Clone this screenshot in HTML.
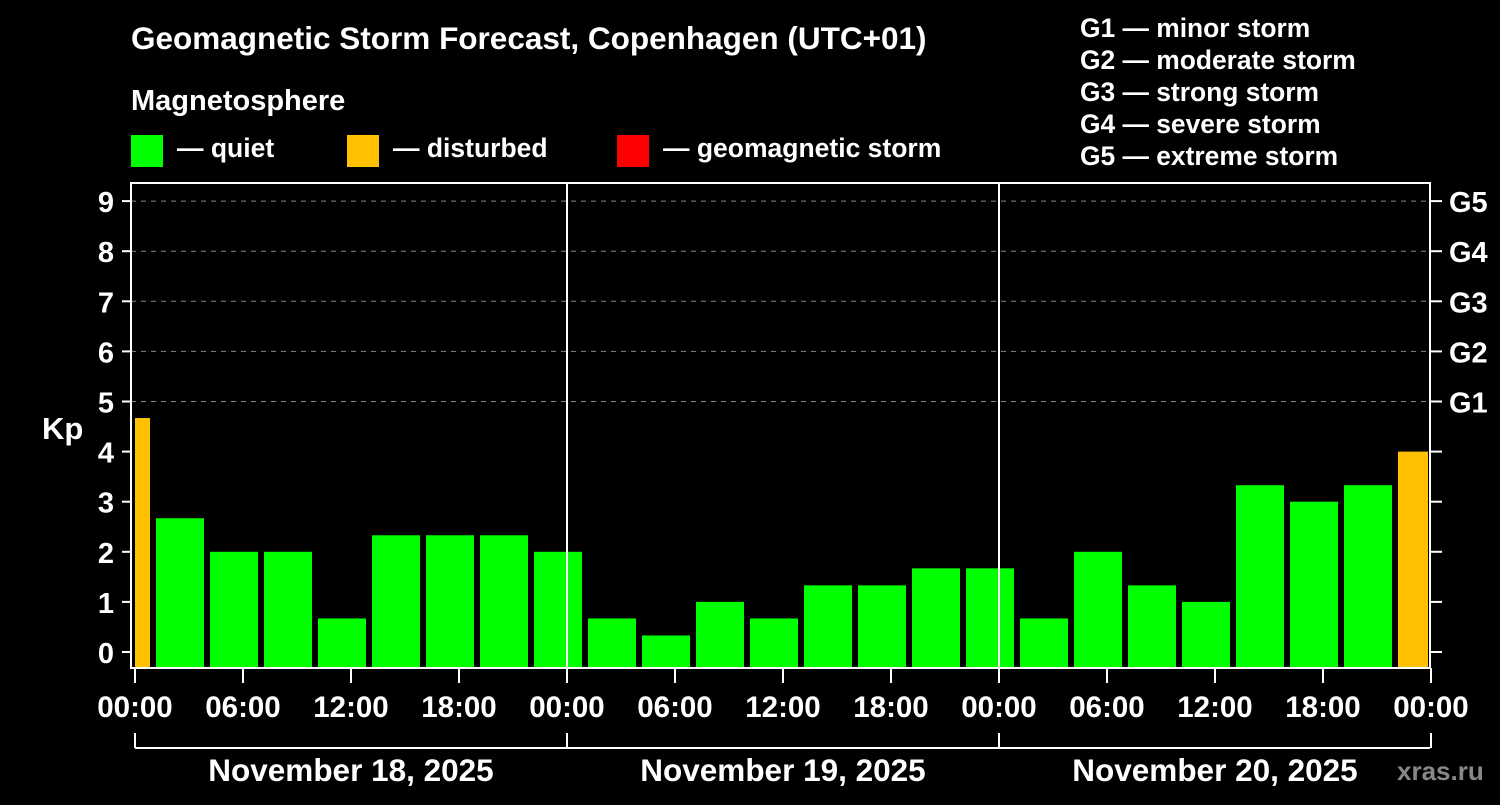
<!DOCTYPE html>
<html><head><meta charset="utf-8"><style>
body{margin:0;background:#000;width:1500px;height:800px;overflow:hidden}
svg text{font-family:"Liberation Sans",Arial,sans-serif;font-weight:bold;fill:#fff}
</style></head><body>
<svg id="c" width="1500" height="800" xmlns="http://www.w3.org/2000/svg">
<text x="131" y="49" font-size="31.5">Geomagnetic Storm Forecast, Copenhagen (UTC+01)</text>
<text x="131" y="110" font-size="29">Magnetosphere</text>
<rect x="131" y="135" width="32" height="32" fill="#00ff00"/>
<text x="177" y="157" font-size="26.5">— quiet</text>
<rect x="347" y="135" width="32" height="32" fill="#ffc000"/>
<text x="393" y="157" font-size="26.5">— disturbed</text>
<rect x="617" y="135" width="32" height="32" fill="#ff0000"/>
<text x="663" y="157" font-size="26.5">— geomagnetic storm</text>
<g font-size="26.4">
<text x="1080" y="37">G1 — minor storm</text>
<text x="1080" y="69">G2 — moderate storm</text>
<text x="1080" y="101">G3 — strong storm</text>
<text x="1080" y="133">G4 — severe storm</text>
<text x="1080" y="165">G5 — extreme storm</text>
</g>
<text x="42" y="439" font-size="31">Kp</text>
<g id="grid"></g><g id="bars"></g><g id="axes"></g>
<text x="1397" y="780" font-size="26" fill="#888" style="fill:#888">xras.ru</text>
</svg>
<script>
const kpValues=[4.67,2.67,2,2,0.67,2.33,2.33,2.33,2,0.67,0.33,1,0.67,1.33,1.33,1.67,1.67,0.67,2,1.33,1,3.33,3,3.33,4];
const yTicks=[0,1,2,3,4,5,6,7,8,9];
const gLabels=["G1","G2","G3","G4","G5"];
const xTickLabels=["00:00","06:00","12:00","18:00","00:00","06:00","12:00","18:00","00:00","06:00","12:00","18:00","00:00"];
const dateLabels=["November 18, 2025","November 19, 2025","November 20, 2025"];
const NS="http://www.w3.org/2000/svg";
const X0=135,HR=18,XMAX=1430;
const yS=v=>652-v*50.1;
const xS=h=>X0+h*HR;
function mk(t,a,p){const e=document.createElementNS(NS,t);for(const k in a)e.setAttribute(k,a[k]);p.appendChild(e);return e;}
const grid=document.getElementById('grid'),bars=document.getElementById('bars'),axes=document.getElementById('axes');
yTicks.forEach(v=>{
 const y=yS(v);
 if(v>=5){const l=mk('line',{x1:131,x2:1430,y1:y,y2:y,stroke:'#888','stroke-width':1,'stroke-dasharray':'5,5'},grid);
 
 }
 mk('line',{x1:122,x2:131,y1:y,y2:y,stroke:'#fff','stroke-width':2},axes);
 mk('line',{x1:1430,x2:1442,y1:y,y2:y,stroke:'#fff','stroke-width':2},axes);
 const t=mk('text',{x:114,y:y+11,'font-size':29,'text-anchor':'end'},axes);t.textContent=v;
 
 
 if(v>=5){const g=mk('text',{x:1449,y:y+11,'font-size':29},axes);g.textContent=gLabels[v-5];
 
 }
});
kpValues.forEach((v,i)=>{
 let h0=-2+3*i, h1=h0+3;
 let x0=Math.max(xS(h0)+3,X0), x1=Math.min(xS(h1)-3,1428);
 const r=mk('rect',{x:x0,y:yS(v),width:x1-x0,height:668-yS(v),fill:v>=4?'#ffc000':'#00ff00'},bars);
 
 
});
const f=mk('path',{d:'M131,668 V183 H1430 V668 Z',fill:'none',stroke:'#fff','stroke-width':2},axes);


[1,2].forEach(d=>mk('line',{x1:xS(24*d),x2:xS(24*d),y1:183,y2:668,stroke:'#fff','stroke-width':2},axes));
xTickLabels.forEach((s,i)=>{
 const x=xS(6*i);
 mk('line',{x1:x,x2:x,y1:668,y2:683,stroke:'#fff','stroke-width':2},axes);
 const t=mk('text',{x:x,y:717,'font-size':29.5,'text-anchor':'middle'},axes);t.textContent=s;
 
 
});
mk('line',{x1:X0,x2:XMAX,y1:748,y2:748,stroke:'#fff','stroke-width':2},axes);
[0,1,2,3].forEach(d=>mk('line',{x1:xS(24*d),x2:xS(24*d),y1:733,y2:748,stroke:'#fff','stroke-width':2},axes));
dateLabels.forEach((s,i)=>{
 const t=mk('text',{x:xS(24*i+12),y:781,'font-size':31.5,'text-anchor':'middle'},axes);t.textContent=s;
 
 
});
</script>
</body></html>
